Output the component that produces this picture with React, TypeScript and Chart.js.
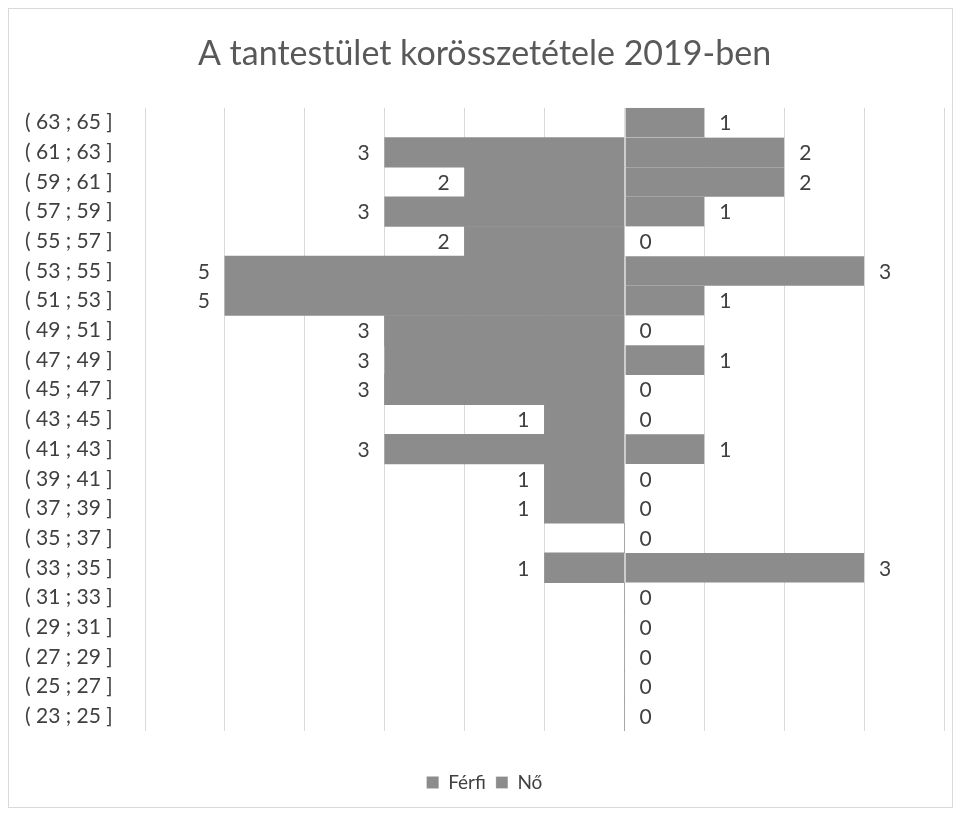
import React, { useEffect, useRef } from "react";
import { Chart, registerables } from "chart.js";

Chart.register(...registerables);

const TITLE = "A tantestület korösszetétele 2019-ben";
const CATEGORIES = [
  "( 63 ; 65 ]", "( 61 ; 63 ]", "( 59 ; 61 ]", "( 57 ; 59 ]", "( 55 ; 57 ]",
  "( 53 ; 55 ]", "( 51 ; 53 ]", "( 49 ; 51 ]", "( 47 ; 49 ]", "( 45 ; 47 ]",
  "( 43 ; 45 ]", "( 41 ; 43 ]", "( 39 ; 41 ]", "( 37 ; 39 ]", "( 35 ; 37 ]",
  "( 33 ; 35 ]", "( 31 ; 33 ]", "( 29 ; 31 ]", "( 27 ; 29 ]", "( 25 ; 27 ]",
  "( 23 ; 25 ]",
];
const FERFI: (number | null)[] = [null, 3, 2, 3, 2, 5, 5, 3, 3, 3, 1, 3, 1, 1, null, 1, null, null, null, null, null];
const NO: (number | null)[] = [1, 2, 2, 1, 0, 3, 1, 0, 1, 0, 0, 1, 0, 0, 0, 3, 0, 0, 0, 0, 0];
const SERIES_NAMES = ["Férfi", "Nő"];
const X_MIN = -6;
const X_MAX = 4;

const FONT = "Lato, 'Open Sans', sans-serif";
const BAR = "#8c8c8c";
const TEXT = "#404040";

const labelPlugin = {
  id: "barLabels",
  afterDatasetsDraw(chart: any) {
    const ctx = chart.ctx;
    const xs = chart.scales.x;
    const ys = chart.scales.y;
    ctx.save();
    ctx.font = `21px ${FONT}`;
    ctx.fillStyle = TEXT;
    ctx.textBaseline = "middle";
    chart.data.datasets.forEach((ds: any, di: number) => {
      ds.data.forEach((v: number | null, i: number) => {
        if (v === null || v === undefined) return;
        const x = xs.getPixelForValue(v);
        const y = ys.getPixelForValue(i) + 1;
        if (di === 0) {
          ctx.textAlign = "right";
          ctx.fillText(String(Math.abs(v)), x - 15, y);
        } else {
          ctx.textAlign = "left";
          ctx.fillText(String(v), x + 15, y);
        }
      });
    });
    ctx.restore();
  },
};

export default function App() {
  const ref = useRef<HTMLCanvasElement>(null);
  useEffect(() => {
    if (!ref.current) return;
    const chart = new Chart(ref.current, {
      type: "bar",
      data: {
        labels: CATEGORIES,
        datasets: [
          {
            label: SERIES_NAMES[0],
            data: FERFI.map((v) => (v === null ? null : -v)),
            backgroundColor: BAR,
            borderWidth: 0,
            barPercentage: 1,
            categoryPercentage: 1,
          },
          {
            label: SERIES_NAMES[1],
            data: NO,
            backgroundColor: BAR,
            borderColor: "#ffffff",
            borderWidth: { left: 1, right: 0, top: 0, bottom: 0 },
            borderSkipped: false,
            barPercentage: 1,
            categoryPercentage: 1,
          },
        ],
      },
      options: {
        indexAxis: "y",
        animation: false,
        responsive: false,
        maintainAspectRatio: false,
        layout: { padding: { left: 16, right: 8, top: 0, bottom: 5 } },
        scales: {
          x: {
            stacked: true,
            min: X_MIN,
            max: X_MAX,
            ticks: { display: false, stepSize: 1 },
            grid: { color: "#d9d9d9", drawTicks: false },
            border: { display: false },
            afterFit: (s: any) => {
              s.height = 32;
            },
          },
          y: {
            stacked: true,
            ticks: {
              color: TEXT,
              font: { family: FONT, size: 21 },
              crossAlign: "far",
              padding: 0,
            },
            grid: { display: false, drawTicks: false },
            border: { display: false },
            afterFit: (s: any) => {
              s.width = 120;
            },
          },
        },
        plugins: {
          title: {
            display: true,
            text: TITLE,
            color: "#595959",
            font: { family: FONT, size: 34, weight: "normal" },
            padding: { top: 25, bottom: 33 },
          },
          legend: {
            position: "bottom",
            labels: {
              color: TEXT,
              font: { family: FONT, size: 19 },
              boxWidth: 12,
              boxHeight: 12,
              padding: 10,
            },
          },
          tooltip: { enabled: false },
        },
      },
      plugins: [labelPlugin],
    } as any);
    return () => chart.destroy();
  }, []);
  return (
    <div style={{ width: 943, height: 798, border: "1px solid #d9d9d9" }}>
      <canvas ref={ref} width={943} height={798} style={{ display: "block" }} />
    </div>
  );
}
